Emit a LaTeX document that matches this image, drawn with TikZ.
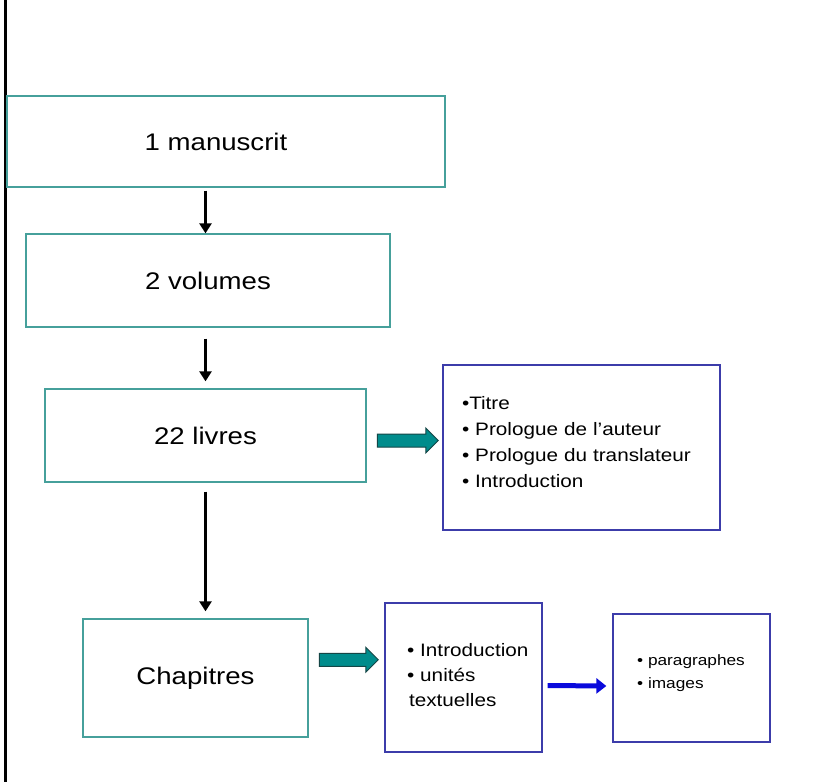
\documentclass[tikz,border=0pt]{standalone}
\usepackage{fontspec}
\setmainfont[FakeStretch=1.15]{Liberation Sans}
\usetikzlibrary{arrows.meta,calc,shapes.arrows}
\definecolor{tealbox}{RGB}{70,160,155}
\definecolor{bluebox}{RGB}{60,60,170}
\definecolor{tealfill}{RGB}{0,140,140}
\definecolor{tealline}{RGB}{20,70,70}
\definecolor{bluearrow}{RGB}{10,10,220}
\tikzset{
  mainbox/.style={draw=tealbox, line width=1.3pt, rectangle, inner sep=0pt,
    font=\fontsize{24}{28}\selectfont},
  listbox/.style={draw=bluebox, line width=1.3pt, rectangle, align=left, inner ysep=0pt},
  blkarrow/.style={line width=2.6pt, -{Triangle[length=10pt,width=12pt]}},
  blockarrow/.style={single arrow, draw=tealline, fill=tealfill, line width=1pt,
    single arrow head extend=6pt, single arrow tip angle=90,
    inner xsep=0pt, inner ysep=6pt, minimum width=24pt},
  thinarrow/.style={draw=bluearrow, line width=5pt, -{Triangle[length=10pt,width=15pt]}}
}
\begin{document}
\begin{tikzpicture}[x=1pt,y=-1pt]
\useasboundingbox (0,0) rectangle (832,782);
\fill[white] (0,0) rectangle (832,782);
\draw[line width=2.6pt] (5.5,0) -- (5.5,782);

\node[mainbox, minimum width=438pt, minimum height=91pt] (b1) at (226,141.5) {1 manuscrit\hspace*{20pt}};
\node[mainbox, minimum width=364pt, minimum height=93pt] (b2) at (208,280.5) {2 volumes};
\node[mainbox, minimum width=321pt, minimum height=93pt] (b3) at (205.5,435.5) {22 livres};
\node[mainbox, minimum width=225pt, minimum height=118pt] (b4) at (195.5,678) {Chapitres};

\node[listbox, minimum width=277pt, minimum height=165pt, text width=239pt,
  inner xsep=19pt, text height=13pt, text depth=90pt,
  font=\fontsize{18}{26}\selectfont] (b5) at (581.5,447.5)
  {•Titre\\ • Prologue de l'auteur\\ • Prologue du translateur\\ • Introduction};
\node[listbox, minimum width=157pt, minimum height=149pt, text width=137pt,
  inner xsep=10pt, text height=13pt, text depth=55pt,
  font=\fontsize{18}{25}\selectfont] (b6) at (463.5,677.5)
  {\hspace*{12pt}• Introduction\\ \hspace*{12pt}• unités\\ \hspace*{14pt}textuelles};
\node[listbox, minimum width=157pt, minimum height=128pt, text width=109pt,
  inner xsep=24pt, text height=11pt, text depth=36pt,
  font=\fontsize{15}{23}\selectfont] (b7) at (691.5,678)
  {• paragraphes\\ • images};

\draw[blkarrow, shorten <=3pt] (b1.south -| b3.center) -- (b2.north -| b3.center);
\draw[blkarrow, shorten <=11pt, shorten >=7pt] (b2.south -| b3.center) -- (b3.north);
\draw[blkarrow, shorten <=9pt, shorten >=7pt] (b3.south) -- (b4.north -| b3.center);

\node[blockarrow, minimum height=61pt] (a1) at ($(b3.east)!0.5!(b5.west)+(0,-1)$) {};
\node[blockarrow, minimum height=59pt] (a2) at ($(b4.east)!0.5!(b6.west)+(-1,-18)$) {};

\draw[thinarrow] ($(b6.east)+(5,8)$) -- ($(b7.west)+(-6,8)$);
\end{tikzpicture}
\end{document}
